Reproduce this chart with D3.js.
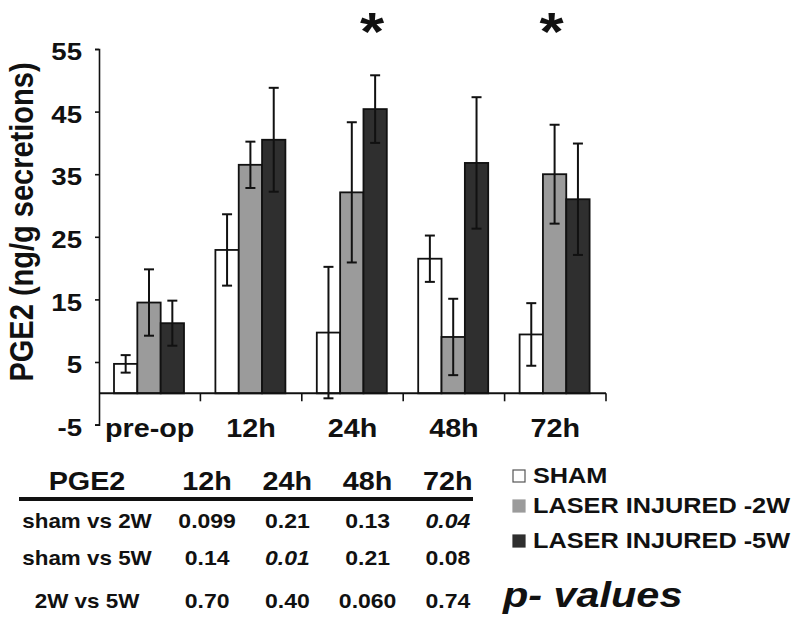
<!DOCTYPE html>
<html>
<head>
<meta charset="utf-8">
<script src="https://cdn.jsdelivr.net/npm/d3@7"></script>
<style>
body { margin: 0; background: #fff; }
text { font-family: Arial, "Liberation Sans", sans-serif; font-weight: bold; fill: #111; }
</style>
</head>
<body>
<div id="chart"></div>
<script>
// Data
const categories = ["pre-op", "12h", "24h", "48h", "72h"];
const seriesNames = ["SHAM", "LASER INJURED -2W", "LASER INJURED -5W"];
const shamMean = [4.7, 22.9, 9.7, 21.5, 9.4];
const shamErr  = [1.4, 5.7, 10.5, 3.7, 5.0];
const w2Mean   = [14.5, 36.5, 32.1, 9.0, 35.0];
const w2Err    = [5.3, 3.7, 11.2, 6.1, 7.9];
const w5Mean   = [11.2, 40.5, 45.4, 36.8, 31.0];
const w5Err    = [3.6, 8.3, 5.4, 10.5, 8.9];
const yTicks = [-5, 5, 15, 25, 35, 45, 55];
const starred = [["24h", "LASER INJURED -5W"], ["72h", "LASER INJURED -2W"]];

const tableCols = ["12h", "24h", "48h", "72h"];
const tableRows = ["sham vs 2W", "sham vs 5W", "2W vs 5W"];
const pValues = [
    ["0.099", "0.21", "0.13", "0.04"],
    ["0.14", "0.01", "0.21", "0.08"],
    ["0.70", "0.40", "0.060", "0.74"]
];

const means = [shamMean, w2Mean, w5Mean];
const errs = [shamErr, w2Err, w5Err];
const fills = ["#ffffff", "#9b9b9b", "#2f2f2f"];

// the source picture is stretched sideways a little
const k = 1.15;

const svg = d3.select("#chart")
    .append("svg")
    .attr("width", 800)
    .attr("height", 626);

function label(x, y, s, size, extra) {
    const t = svg.append("text")
        .attr("transform", `translate(${x},${y}) scale(${k},1)`)
        .attr("font-size", size)
        .text(s);
    if (extra) extra(t);
    return t;
}

// Scales
const x = d3.scaleBand().domain(categories).range([99, 606]);
const xs = d3.scaleBand().domain(seriesNames).range([15, 85]);
const y = d3.scaleLinear().domain([-5, 55]).range([424.6, 49]);
const color = d3.scaleOrdinal().domain(seriesNames).range(fills);

// Y axis
const yAxis = svg.append("g")
    .attr("transform", "translate(99,0)")
    .call(d3.axisLeft(y).tickValues(yTicks).tickFormat(d => String(d)).tickSize(4).tickPadding(13));
yAxis.select(".domain").attr("stroke", "#111").attr("stroke-width", 1.6);
yAxis.selectAll(".tick line").attr("stroke", "#111").attr("stroke-width", 1.6);
yAxis.selectAll(".tick text")
    .attr("font-size", 24)
    .attr("x", -17 / k)
    .attr("y", 3)
    .attr("transform", `scale(${k},1)`);

// Y label
svg.append("text")
    .attr("transform", `translate(33,222) scale(${k},1) rotate(-90)`)
    .attr("text-anchor", "middle")
    .attr("font-size", 29)
    .text("PGE2 (ng/g secretions)");

// Bars
const rows = categories.map((c, j) => ({
    cat: c,
    values: seriesNames.map((s, i) => ({ s, mean: means[i][j], err: errs[i][j] }))
}));

const groups = svg.append("g")
    .selectAll("g")
    .data(rows)
    .join("g")
    .attr("transform", d => `translate(${x(d.cat)},0)`);

groups.selectAll("rect")
    .data(d => d.values)
    .join("rect")
    .attr("x", d => xs(d.s))
    .attr("y", d => y(d.mean))
    .attr("width", xs.bandwidth())
    .attr("height", d => y(0) - y(d.mean))
    .attr("fill", d => color(d.s))
    .attr("stroke", "#111")
    .attr("stroke-width", 1.8);

// Error bars
const eb = groups.selectAll("g.err")
    .data(d => d.values)
    .join("g")
    .attr("class", "err")
    .attr("stroke", "#111")
    .attr("stroke-width", 2);
eb.append("line")
    .attr("x1", d => xs(d.s) + xs.bandwidth() / 2)
    .attr("x2", d => xs(d.s) + xs.bandwidth() / 2)
    .attr("y1", d => y(d.mean + d.err))
    .attr("y2", d => y(d.mean - d.err));
[1, -1].forEach(sign => {
    eb.append("line")
        .attr("x1", d => xs(d.s) + xs.bandwidth() / 2 - 5)
        .attr("x2", d => xs(d.s) + xs.bandwidth() / 2 + 5)
        .attr("y1", d => y(d.mean + sign * d.err))
        .attr("y2", d => y(d.mean + sign * d.err));
});

// X axis at zero
svg.append("line")
    .attr("x1", x.range()[0]).attr("x2", x.range()[1])
    .attr("y1", y(0)).attr("y2", y(0))
    .attr("stroke", "#111").attr("stroke-width", 2);
svg.append("g")
    .selectAll("line")
    .data(categories)
    .join("line")
    .attr("x1", d => x(d) + x.bandwidth())
    .attr("x2", d => x(d) + x.bandwidth())
    .attr("y1", y(0))
    .attr("y2", y(0) + 8)
    .attr("stroke", "#111").attr("stroke-width", 1.6);

categories.forEach(c => {
    label(x(c) + x.bandwidth() / 2, 437, c, 25, t => t.attr("text-anchor", "middle"));
});

// Significance stars
starred.forEach(([c, s]) => {
    label(x(c) + xs(s) + xs.bandwidth() / 2 - 3, 50, "*", 54, t => t.attr("text-anchor", "middle"));
});

// Table of p-values
const tx = d3.scaleBand().domain(tableCols).range([167, 488]);
const rowY = [528, 565, 608];
label(87, 490, "PGE2", 25, t => t.attr("text-anchor", "middle"));
tableCols.forEach(c => {
    label(tx(c) + tx.bandwidth() / 2, 490, c, 25, t => t.attr("text-anchor", "middle"));
});
svg.append("line")
    .attr("x1", 19).attr("x2", 473)
    .attr("y1", 499).attr("y2", 499)
    .attr("stroke", "#111").attr("stroke-width", 4);
tableRows.forEach((r, i) => {
    label(87, rowY[i], r, 19.5, t => t.attr("text-anchor", "middle"));
    tableCols.forEach((c, j) => {
        const p = pValues[i][j];
        label(tx(c) + tx.bandwidth() / 2, rowY[i], p, 20, t => t
            .attr("text-anchor", "middle")
            .attr("font-style", +p < 0.05 ? "italic" : "normal"));
    });
});

// Legend
const legY = [483, 513, 548];
seriesNames.forEach((s, i) => {
    svg.append("rect")
        .attr("x", 513).attr("y", legY[i] - 13)
        .attr("width", 12).attr("height", 12)
        .attr("fill", color(s))
        .attr("stroke", i === 0 ? "#555" : color(s))
        .attr("stroke-width", 1.2);
    label(533, legY[i], s, 22);
});

label(503, 607, "p- values", 36, t => t.attr("font-style", "italic"));
</script>
</body>
</html>
